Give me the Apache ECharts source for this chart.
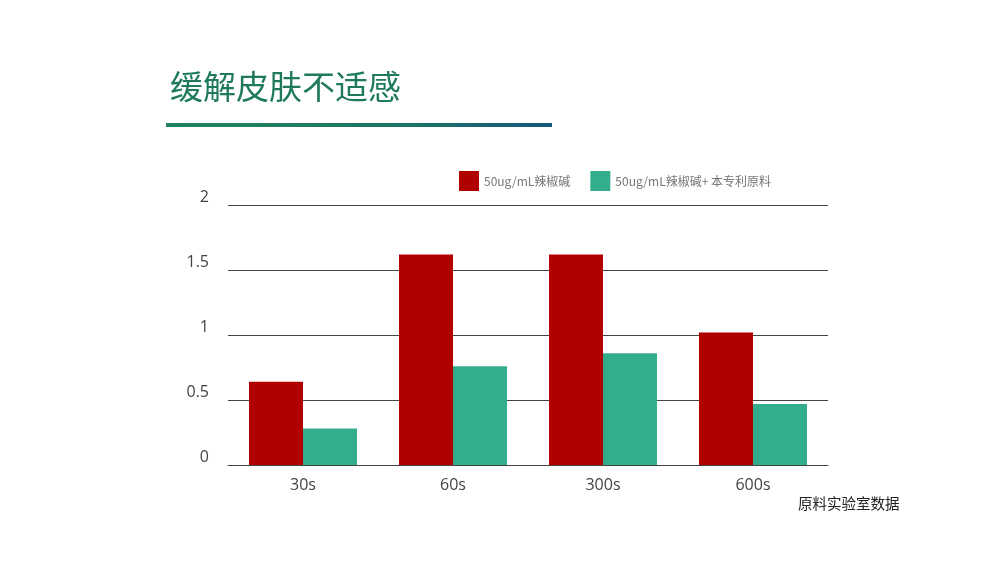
<!DOCTYPE html>
<html>
<head>
<meta charset="utf-8">
<script src="https://cdn.jsdelivr.net/npm/echarts@6/dist/echarts.min.js"></script>
<style>
  html, body { margin: 0; padding: 0; background: #ffffff; }
  #chart { width: 1000px; height: 567px; }
</style>
</head>
<body>
<div id="chart"></div>
<script>
const categories = ['30s', '60s', '300s', '600s'];
const capsaicin = [0.64, 1.62, 1.62, 1.02];
const capsaicinPlus = [0.28, 0.76, 0.86, 0.47];
const seriesNames = ['50ug/mL辣椒碱', '50ug/mL辣椒碱+ 本专利原料'];

const chart = echarts.init(document.getElementById('chart'));

const option = {
  backgroundColor: '#ffffff',
  animation: false,
  title: {
    text: '缓解皮肤不适感',
    left: 165,
    top: 65,
    textStyle: {
      fontFamily: 'Noto Sans CJK SC',
      fontSize: 33,
      fontWeight: 'normal',
      color: '#1f7a5c'
    }
  },
  graphic: [
    {
      type: 'rect',
      shape: { x: 166, y: 123, width: 386, height: 4 },
      style: {
        fill: new echarts.graphic.LinearGradient(0, 0, 1, 0, [
          { offset: 0, color: '#22835f' },
          { offset: 0.6, color: '#1d7665' },
          { offset: 1, color: '#14587a' }
        ])
      }
    },
    {
      type: 'text',
      left: 798,
      top: 496,
      style: {
        text: '原料实验室数据',
        fontFamily: 'Noto Sans CJK SC',
        fontSize: 14.5,
        fill: '#222'
      }
    }
  ],
  legend: {
    data: seriesNames,
    left: 454,
    top: 166,
    itemWidth: 20,
    itemHeight: 20,
    itemGap: 20,
    icon: 'rect',
    textStyle: {
      fontFamily: 'Noto Sans CJK SC',
      fontSize: 12,
      color: '#777'
    }
  },
  grid: {
    left: 228,
    right: 172,
    top: 205,
    bottom: 102
  },
  xAxis: {
    type: 'category',
    data: categories,
    axisLine: { lineStyle: { color: '#444', width: 1 } },
    axisTick: { show: false },
    axisLabel: {
      color: '#444',
      fontFamily: 'Open Sans',
      fontSize: 16,
      margin: 12
    }
  },
  yAxis: {
    type: 'value',
    min: 0,
    max: 2,
    interval: 0.5,
    axisLine: { show: false },
    axisTick: { show: false },
    axisLabel: {
      color: '#444',
      fontFamily: 'Open Sans',
      fontSize: 16,
      margin: 19,
      verticalAlign: 'bottom'
    },
    splitLine: { lineStyle: { color: '#444', width: 1 } }
  },
  series: [
    {
      name: seriesNames[0],
      type: 'bar',
      data: capsaicin,
      barWidth: 54,
      barGap: '0%',
      itemStyle: { color: '#b00000' }
    },
    {
      name: seriesNames[1],
      type: 'bar',
      data: capsaicinPlus,
      barWidth: 54,
      itemStyle: { color: '#33ae8c' }
    }
  ]
};

chart.setOption(option);
</script>
</body>
</html>
